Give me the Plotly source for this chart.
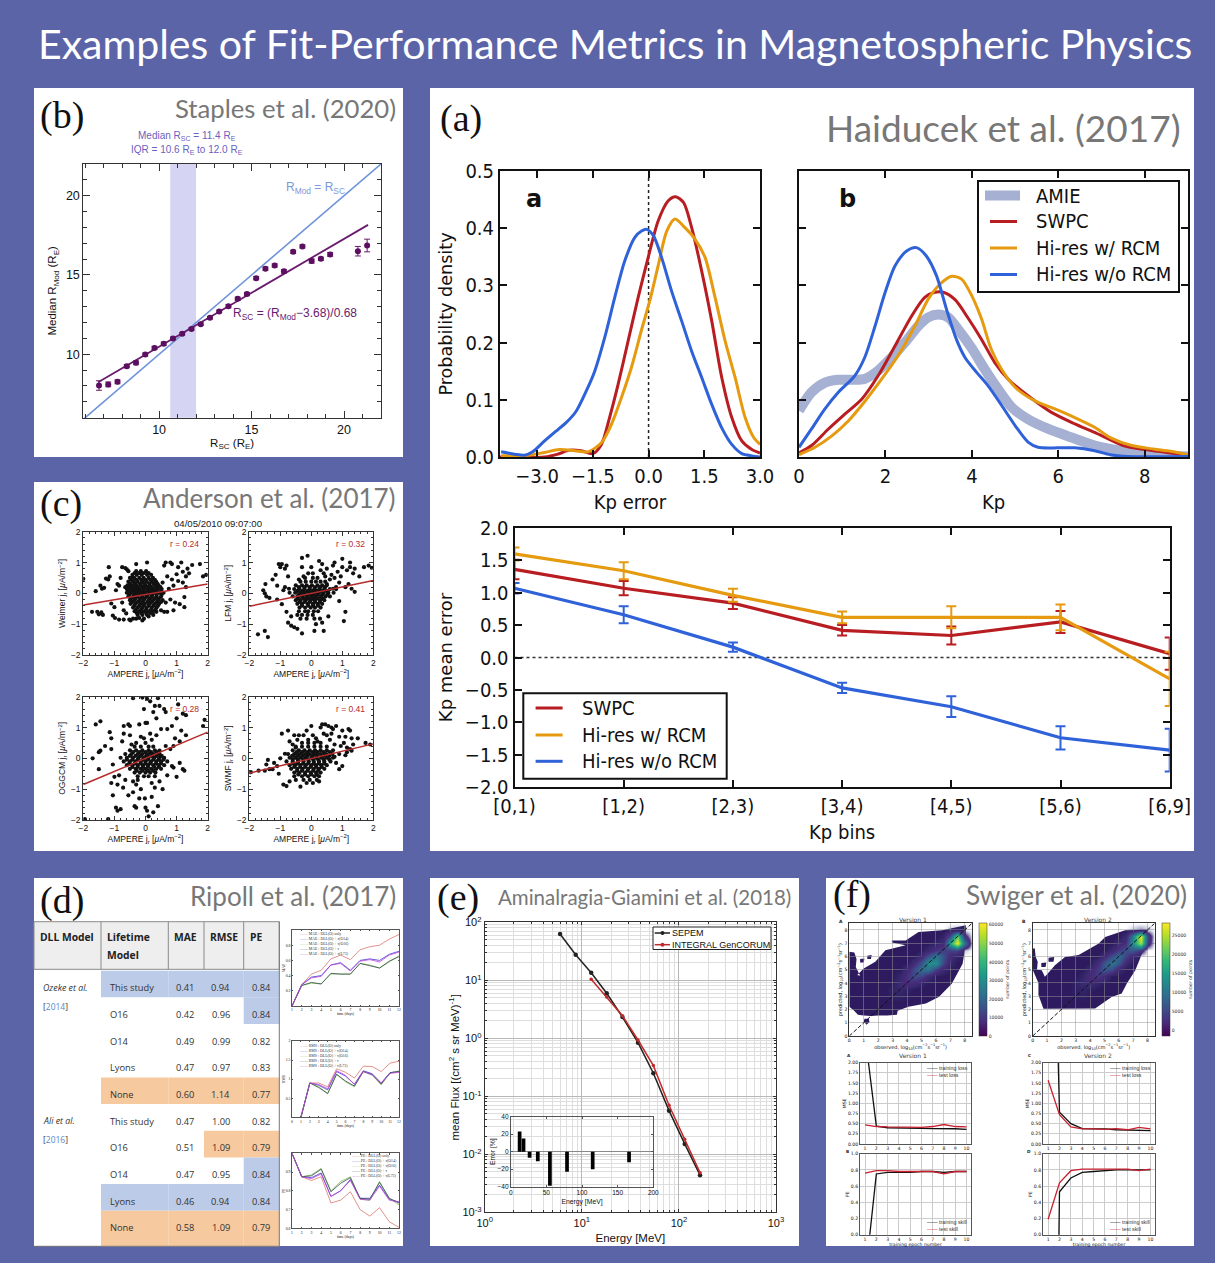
import numpy as np
import plotly.graph_objects as go

W, H = 1215, 1263
BG = "#5c64a8"
SANS = "Liberation Sans"
COND = "DejaVu Sans Condensed"
HUM = "Lato"
SERIF = "Liberation Serif"
RED, ORANGE, BLUE, AMIE = "#b81d22", "#e59a10", "#2f62d9", "#a5b0d2"

# ---------- panel (a) ----------
err_x_blue = [-3.97,-3.61,-3.34,-3.12,-2.8,-2.44,-2.22,-1.95,-1.68,-1.45,-1.18,-.91,-.64,-.37,-.19,-.05,.13,.35,.62,.89,1.16,1.43,1.7,1.97,2.24,2.51,2.78,3]
err_y_blue = [.009,.005,.003,.009,.028,.048,.06,.08,.115,.15,.209,.279,.343,.384,.395,.398,.387,.349,.29,.238,.185,.139,.092,.051,.022,.006,.002,0]
err_x_red = [-4,-2.8,-2.44,-2.13,-1.81,-1.5,-1.27,-1.05,-.82,-.55,-.28,-.01,.26,.53,.73,.94,1.16,1.43,1.7,1.97,2.24,2.51,2.78,3]
err_y_red = [0,0,.005,.012,.011,.006,.022,.069,.127,.203,.279,.349,.413,.448,.455,.445,.401,.325,.238,.139,.069,.028,.013,.007]
err_x_orange = [-3.97,-3.25,-2.8,-2.4,-1.99,-1.63,-1.27,-1,-.73,-.46,-.19,.04,.26,.49,.71,.98,1.25,1.52,1.79,2.06,2.33,2.6,2.83,3]
err_y_orange = [.002,.003,.008,.013,.011,.009,.025,.057,.104,.157,.222,.275,.335,.395,.416,.401,.381,.349,.279,.203,.139,.069,.034,.022]

kp_x_amie = [0,.29,.6,.91,1.23,1.53,1.83,2.14,2.45,2.76,2.99,3.22,3.45,3.68,3.99,4.3,4.61,4.92,5.3,5.77,6.31,6.84,7.5,8,9]
kp_y_amie = [.081,.113,.13,.135,.135,.137,.151,.174,.2,.229,.244,.249,.244,.223,.191,.153,.118,.087,.066,.049,.034,.02,.01,.005,.001]
kp_x_red = [0,.29,.68,1.06,1.45,1.83,2.22,2.61,2.91,3.14,3.34,3.61,3.91,4.22,4.53,4.84,5.3,5.84,6.38,6.84,7.5,8,8.5,9]
kp_y_red = [.007,.02,.049,.075,.101,.142,.194,.247,.279,.288,.288,.275,.243,.206,.165,.136,.107,.078,.058,.043,.02,.013,.008,.003]
kp_x_orange = [0,.37,.76,1.14,1.53,1.91,2.3,2.68,2.99,3.26,3.53,3.76,3.99,4.22,4.45,4.69,5,5.46,5.92,6.38,6.84,7.2,7.7,8.2,8.6,9]
kp_y_orange = [.004,.017,.037,.063,.098,.136,.178,.229,.276,.302,.316,.311,.283,.242,.188,.153,.122,.098,.084,.069,.052,.034,.02,.014,.01,.004]
kp_x_blue = [0,.29,.6,.91,1.29,1.52,1.76,1.99,2.22,2.49,2.72,2.95,3.18,3.41,3.64,3.84,4.11,4.38,4.69,5,5.3,5.53,6,6.38,6.84,7.2,7.6,9]
kp_y_blue = [.017,.049,.084,.113,.142,.174,.229,.287,.334,.36,.366,.351,.317,.259,.206,.174,.148,.124,.09,.055,.026,.017,.016,.016,.011,.004,.001,.001]

kp_bins = ["[0,1)", "[1,2)", "[2,3)", "[3,4)", "[4,5)", "[5,6)", "[6,9]"]
bin_red = [1.36, 1.07, .84, .42, .34, .55, .06]
bin_red_err = [.15, .11, .09, .08, .14, .17, .25]
bin_orange = [1.6, 1.34, .96, .62, .62, .62, -.33]
bin_orange_err = [.1, .13, .1, .09, .17, .2, .42]
bin_blue = [1.07, .66, .16, -.47, -.76, -1.24, -1.43]
bin_blue_err = [.08, .13, .07, .08, .16, .18, .33]

# ---------- panel (b) ----------
rsc_x = [6.75,7.25,7.75,8.25,8.75,9.25,9.75,10.25,10.75,11.25,11.75,12.25,12.75,13.25,13.75,14.25,14.75,15.25,15.75,16.25,16.75,17.25,17.75,18.25,18.75,19.25,20.75,21.25]
rmod_y = [8.03,8.1,8.26,9.25,9.46,9.98,10.4,10.67,11.0,11.3,11.6,11.9,12.3,12.7,13.03,13.5,13.8,14.8,15.4,15.6,15.23,16.46,16.8,15.88,16.02,16.3,16.5,16.86]
rmod_err = [.3,.15,.12,.1,.12,.1,.1,.1,.08,.08,.08,.08,.08,.08,.1,.1,.1,.1,.1,.1,.12,.1,.1,.13,.1,.12,.3,.4]
fit_x = [6.7, 21.3]
fit_y = [8.24, 18.16]
identity_xy = [5.9, 22]

# ---------- panel (c) ----------
weimer_rows = [(.72,[-.3,-.15,.02]),(.66,[-.35,-.2,-.05,.1]),(.6,[-.42,-.28,-.12,.05,.18]),(.5,[-.5,-.36,-.2,-.06,.1,.24]),(.44,[-.45,-.3,-.14,0,.16,.3]),(.38,[-.55,-.4,-.26,-.1,.04,.2,.34]),(.32,[-.5,-.34,-.18,-.04,.12,.26,.38]),
 (.26,[-.58,-.44,-.3,-.15,0,.14,.3,.42]),(.2,[-.52,-.38,-.24,-.08,.06,.2,.36,.48]),(.14,[-.6,-.46,-.32,-.18,-.03,.12,.27,.4,.52]),(.08,[-.54,-.38,-.24,-.1,.06,.2,.34,.5]),(.02,[-.6,-.46,-.3,-.16,-.02,.14,.28,.44,.58]),
 (-.04,[-.52,-.36,-.22,-.08,.08,.22,.36,.52]),(-.1,[-.55,-.4,-.26,-.1,.04,.2,.35,.5]),(-.16,[-.46,-.32,-.16,-.02,.14,.3,.44]),(-.22,[-.5,-.36,-.2,-.06,.1,.24,.4,.55]),(-.28,[-.42,-.26,-.1,.06,.2,.36,.5]),(-.34,[-.48,-.32,-.16,-.02,.14,.3,.44]),
 (-.4,[-.36,-.2,-.06,.1,.26,.4]),(-.46,[-.4,-.25,-.1,.04,.2,.36]),(-.52,[-.3,-.14,.02,.18,.32]),(-.58,[-.35,-.2,-.05,.1,.25]),(-.64,[-.28,-.14,.02,.16]),(-.7,[-.25,-.1,.05]),(-.82,[-.3,-.05])]
weimer_outer = [(-2,.47),(-1.72,-.6),(-1.6,.07),(-1.55,-.6),(-1.5,-.68),(-1.42,-.62),(-1.37,-.7),(-1.45,.25),(-1.4,.15),(-1.33,.18),(-1.27,.48),(-1.15,.55),(-1.2,.45),(-1.18,.85),(-1.1,-.33),(-1.05,-.72),(-1.0,-.45),(-.98,-.8),(-.95,.1),(-.9,.3),(-.85,.25),(-.85,-.85),(-.8,.5),(-.75,.85),(-.75,-.3),(-.7,-.85),(-.7,-.55),(-.65,.82),(-.65,.2),(-.62,-.65),(-.6,.78),(-.55,.72),(-.52,-.85),(-.48,-.88),(-.45,.5),(-.4,-.82),(-.3,.95),(-.2,-.8),(-.1,-.88),(.05,1.0),(.1,-.75),(.25,-.7),(.35,-.6),(.5,-.55),(.6,.9),(.55,.35),(.65,-.3),(.7,-.6),(.65,1.0),(.7,.55),(.75,.15),(.8,1.0),(.85,.95),(.85,.45),(.9,.25),(.95,-.3),(.9,-.55),(1,.62),(1.05,.85),(1.05,.4),(1.1,-.35),(1.15,1.0),(1.2,.7),(1.2,.35),(1.25,-.12),(1.3,.2),(1.3,.55),(1.35,.8),(1.4,.65),(1.5,.92),(1.75,.95),(1.95,.6),(1.85,.55),(1.25,-.45),(.8,-.2),(.6,-.6)]
weimer_fit = [-.38, .3]

lfm_rows = [(.5,[-.2,.05,.2]),(.38,[-.35,-.18,0,.15,.3,.45]),(.26,[-.5,-.3,-.15,.02,.2,.35,.5]),(.2,[-.4,-.22,-.05,.12,.28,.44]),(.14,[-.55,-.38,-.22,-.05,.1,.26,.42,.6,.8]),(.08,[-.45,-.28,-.12,.04,.18,.34,.5]),
 (.02,[-.7,-.52,-.35,-.2,-.05,.1,.25,.4,.55,.72]),(-.04,[-.4,-.25,-.08,.06,.2,.36,.52]),(-.1,[-.6,-.45,-.3,-.15,0,.14,.3,.46,.6]),(-.16,[-.42,-.25,-.1,.05,.2,.36]),(-.22,[-.5,-.35,-.18,-.02,.12,.28,.42]),(-.28,[-.38,-.22,-.05,.12,.28]),
 (-.34,[-.45,-.3,-.12,.05,.2,.35]),(-.4,[-.3,-.1,.06,.22]),(-.46,[-.38,-.2,-.02,.12,.3]),(-.58,[-.4,-.2,-.1,.08,.22]),(-.7,[-.45,-.3,-.12,.05]),(-.82,[-.35,-.15,.1,.28])]
lfm_outer = [(-1.72,-1.33),(-1.5,-1.22),(-1.4,-1.42),(-1.55,.1),(-1.5,.0),(-1.48,.3),(-1.45,-.1),(-1.35,-.15),(-1.25,.45),(-1.15,.6),(-1.1,.25),(-1.1,-.2),(-1.05,.95),(-1.0,.85),(-.95,.95),(-.85,.8),(-.8,.9),(-.95,-.35),(-.9,.1),(-.85,.2),(-.75,.55),(-.72,.15),(-.65,-.75),(-.8,-.6),(-.75,-.95),(-.65,-1.05),(-.55,-1.1),(-.45,-1.15),(-.3,-1.3),(-.4,.45),(-.3,.85),(-.3,1.15),(-.25,.55),(-.12,1.22),(-.1,.65),(0,.85),(.05,.65),(.1,-1.22),(.15,-1.0),(.25,1.05),(.3,.75),(.35,.95),(.35,-.95),(.4,.65),(.4,-1.22),(.45,.55),(.5,.8),(.5,.3),(.55,-.75),(.6,.45),(.65,.6),(.7,.9),(.7,.15),(.75,.5),(.75,1.0),(.8,.2),(.85,.7),(.9,-.25),(.9,.35),(.95,.55),(1.0,1.12),(1.0,.85),(1.1,.2),(1.1,-.6),(1.15,.75),(1.2,.3),(1.25,1.0),(1.25,.85),(1.3,.15),(1.35,.65),(1.05,-.9),(1.4,.8),(1.7,.85),(1.85,.9),(1.95,.83),(1.4,.05),(1.55,.55)]
lfm_fit = [-.42, .42]

oggcm_rows = [(.5,[-.3,0]),(.38,[-.35,-.15,.1,.25]),(.26,[-.5,-.3,-.1,.1,.3]),(.2,[-.4,-.2,0,.18,.36]),(.14,[-.65,-.45,-.25,-.1,.1,.25,.45]),(.08,[-.5,-.32,-.15,.02,.2,.36,.52]),(.02,[-.8,-.6,-.4,-.22,-.05,.1,.28,.45,.6]),(-.04,[-.6,-.42,-.25,-.08,.08,.25,.42,.58]),
 (-.1,[-.7,-.5,-.32,-.15,0,.18,.35,.5,.7]),(-.16,[-.52,-.35,-.16,0,.15,.34,.5]),(-.22,[-.6,-.42,-.25,-.08,.08,.25,.42,.6]),(-.28,[-.42,-.25,-.08,.08,.28,.44]),(-.34,[-.5,-.32,-.15,0,.18,.35,.5]),(-.4,[-.28,-.1,.08,.25]),(-.46,[-.35,-.18,0,.15,.32]),(-.58,[-.25,-.05,.1,.3])]
oggcm_outer = [(-1.7,0),(-1.5,.2),(-1.45,.25),(-1.45,1.2),(-1.6,1.1),(-1.5,-.35),(-1.3,.4),(-1.15,.85),(-1.1,.65),(-1.1,.3),(-1.05,-.2),(-1.1,-.8),(-1.0,-.6),(-1.05,-1.2),(-.95,-1.6),(-.9,-1.7),(-.8,-1.65),(-.9,-.85),(-.85,-.55),(-.75,.55),(-.7,.8),(-.72,-.95),(-.65,-.7),(-.7,1.05),(-.55,1.1),(-.5,1.05),(-.5,.75),(-.45,.45),(-.55,-1.2),(-.4,-.75),(-.4,-1.1),(-.4,1.95),(-.3,-.85),(-.35,-1.55),(-.3,-1.6),(-.25,-.7),(-.2,1.1),(-.15,.7),(-.15,-1.0),(-.2,-1.3),(-.1,1.97),(-.05,1.6),(-.05,.65),(0,1.15),(.05,1.93),(.05,1.15),(0,-1.6),(.05,-1.7),(.1,-1.88),(-.02,-1.3),(.15,1.85),(.15,.8),(.2,-1.25),(.2,-.8),(.25,-1.75),(.2,.6),(.25,1.5),(.3,-.95),(.3,1.7),(.35,1.3),(.35,.75),(.4,-1.55),(.4,1.95),(.45,1.7),(.45,.25),(.45,-.75),(.5,.95),(.55,-1.0),(.6,1.6),(.65,1.5),(.65,.4),(.7,-.55),(.7,.95),(.8,.3),(.85,1.05),(.9,-.3),(.9,.4),(.95,.65),(1.0,1.3),(1.05,1.75),(1.1,-.15),(1.1,.55),(1.15,.9),(1.2,1.45),(1.2,-.35),(1.25,-.4),(1.3,.75),(1.3,1.4),(1.85,1.05),(1.9,1.25),(-1.95,-1.97),(-1.2,-1.97),(1.0,-.6),(.85,-.25)]
oggcm_fit = [-.85, .85]

swmf_rows = [(.5,[-.3,-.1,.1,.3]),(.38,[-.5,-.3,-.1,.1,.3,.5]),(.26,[-.6,-.4,-.22,-.05,.12,.3,.5,.7]),(.2,[-.48,-.3,-.12,.05,.2,.4,.6]),(.14,[-.75,-.55,-.38,-.2,-.05,.12,.3,.48,.68,.9]),(.08,[-.62,-.45,-.28,-.12,.04,.2,.4,.58]),
 (.02,[-.7,-.52,-.35,-.18,0,.15,.32,.5,.7]),(-.04,[-.6,-.44,-.26,-.1,.06,.22,.4,.58]),(-.1,[-.8,-.6,-.42,-.25,-.08,.08,.25,.42,.62]),(-.16,[-.6,-.44,-.26,-.1,.08,.24,.42]),(-.22,[-.7,-.52,-.35,-.18,0,.15,.32,.5]),(-.28,[-.55,-.36,-.2,-.02,.16,.34]),
 (-.34,[-.65,-.45,-.28,-.1,.08,.25,.42]),(-.4,[-.46,-.3,-.12,.06,.22]),(-.46,[-.55,-.38,-.2,-.02,.15,.3]),(-.52,[-.42,-.2,0,.18]),(-.58,[-.55,-.3,-.1,.1,.25]),(-.7,[-.5,-.25,-.05,.18])]
swmf_outer = [(-1.95,-.45),(-1.7,-.4),(-1.5,-.4),(-1.45,-.2),(-1.4,-.05),(-1.35,-.35),(-1.25,-.35),(-1.2,-.15),(-1.1,-.25),(-1.05,-.5),(-1.0,.0),(-.95,.8),(-.9,-.85),(-.8,-.9),(-.75,.9),(-.85,.15),(-.7,.55),(-.7,-.75),(-.6,.45),(-.55,.75),(-.5,.35),(-.45,.6),(-.4,.75),(-.35,-.92),(-.25,.75),(-.15,.9),(-.1,.6),(-.15,-.8),(0,1.05),(.05,.75),(.05,-.8),(.15,.65),(.2,.55),(.25,-.75),(.3,1.0),(.35,1.1),(.4,.8),(.45,1.1),(.5,.75),(.55,1.05),(.6,.6),(.65,.8),(.65,1.0),(.7,.95),(.75,.45),(.75,.05),(.8,-.15),(.8,1.05),(.9,.7),(.95,.4),(1.0,.9),(1.0,-.25),(1.05,.5),(1.1,.7),(1.1,.1),(1.15,.35),(1.2,.95),(1.25,.9),(1.25,.3),(1.3,.25),(1.3,.65),(1.5,.65),(1.35,.45),(1.75,.5),(1.9,.45),(.9,-.35),(1.15,.2)]
swmf_fit = [-.48, .47]

# ---------- panel (d) ----------
lifetime_model = ["This study", "O16", "O14", "Lyons", "None", "This study", "O16", "O14", "Lyons", "None"]
mae_vals = ["0.41", "0.42", "0.49", "0.47", "0.60", "0.47", "0.51", "0.47", "0.46", "0.58"]
rmse_vals = ["0.94", "0.96", "0.99", "0.97", "1.14", "1.00", "1.09", "0.95", "0.94", "1.09"]
pe_vals = ["0.84", "0.84", "0.82", "0.83", "0.77", "0.82", "0.79", "0.84", "0.84", "0.79"]
CB, CO, CW = "#bccbe8", "#f6c99f", "#ffffff"
fill_model = [CB, CW, CW, CW, CO, CW, CW, CW, CB, CO]
fill_mae = [CB, CW, CW, CW, CO, CW, CW, CW, CB, CO]
fill_rmse = [CB, CW, CW, CW, CO, CW, CO, CW, CB, CO]
fill_pe = [CB, CB, CW, CW, CO, CW, CO, CB, CB, CO]

days = [1,2,3,4,5,6,7,8,9,10,11,12]
d_names = ["DLL(O) only", "DLL(O) + τ(O14)", "DLL(O) + τ(O16)", "DLL(O) + τ", "DLL(O) + τ(L73)"]
d_colors = ["#d9776f", "#3a3ad0", "#8fc060", "#2f4a4a", "#c040e0"]
mae_series = [[0,.28,.42,.47,.62,.67,.61,.74,.78,.80,.88,.94],[0,.28,.38,.40,.54,.57,.47,.60,.62,.60,.68,.72],
              [0,.27,.30,.29,.42,.42,.42,.56,.54,.50,.58,.66],[0,.27,.31,.29,.43,.42,.42,.56,.53,.50,.59,.65],
              [0,.28,.37,.39,.54,.56,.46,.59,.61,.58,.67,.71]]
rms_series = [[0,.9,.9,.8,1.27,1.18,1.03,1.34,1.33,1.2,1.42,1.47],[0,.9,.84,.72,1.2,1.08,.87,1.22,1.14,.9,1.17,1.2],
              [0,.9,.8,.63,1.12,.93,.8,1.2,1.1,.85,1.16,1.22],[0,.9,.78,.62,1.13,.95,.82,1.2,1.12,.87,1.17,1.2],
              [0,.9,.86,.75,1.22,1.1,.86,1.2,1.12,.9,1.15,1.18]]
pe_series = [[1,.875,.855,.875,.735,.75,.795,.70,.665,.71,.635,.605],[1,.875,.87,.895,.77,.80,.86,.76,.76,.83,.755,.74],
             [1,.875,.885,.92,.80,.85,.875,.755,.75,.85,.76,.725],[1,.875,.88,.915,.795,.84,.87,.76,.755,.845,.76,.735],
             [1,.875,.865,.89,.77,.80,.855,.755,.75,.825,.75,.74]]

# ---------- panel (e) ----------
sepem_x = [5.97, 8.65, 12.5, 18.05, 26.2, 37.9, 54.6, 79.1, 114.8, 165]
sepem_y = [63, 27.6, 13.5, 5.97, 2.33, .84, .25, .0566, .0151, .00437]
integral_x = [12.5, 18.05, 26.2, 37.9, 54.6, 79.1, 114.8, 165]
integral_y = [10.4, 5.16, 2.45, .935, .338, .07, .0182, .00483]
inset_x = [12.5, 18, 26.5, 38, 55, 79, 115, 166]
inset_y = [23, 15, -7, -11, -39, -23, -20, -12]

# ---------- panel (f) ----------
heat_axis = [0,.5,1,1.5,2,2.5,3,3.5,4,4.5,5,5.5,6,6.5,7,7.5,8,8.5]
Z0 = [0]*18
heat_a = [Z0,Z0,Z0,Z0,Z0,Z0,
 [0,0,0,0,0,0,1.5,1.5,0,0,0,0,0,0,0,0,0,0],
 [0,0,0,0,0,0,2,3,2,0,0,0,0,0,0,0,0,0],
 [0,0,0,0,0,0,0,5,8,7,2,0,0,0,0,0,0,0],
 [0,0,0,0,0,0,0,3,9,14,13,5,0,0,0,0,0,0],
 [0,0,0,0,0,0,0,0,6,14,22,24,12,4,0,0,0,0],
 [0,0,0,0,0,0,0,0,0,7,16,30,30,13,3,0,0,0],
 [0,0,0,0,0,0,0,0,0,0,6,16,24,16,6,2,0,0],
 [0,0,0,0,0,0,0,0,0,0,0,4,10,11,12,13,2,0],
 [0,0,0,0,0,0,0,0,0,0,0,0,2,6,36,61,24,0],
 [0,0,0,0,0,0,0,0,0,0,0,0,0,2,15,48,10,0],
 [0,0,0,0,0,0,0,0,0,0,0,0,0,0,2,3,1,0],Z0]
heat_b = [Z0,Z0,Z0,Z0,Z0,Z0,
 [0,0,0,0,0,0,.5,.5,0,0,0,0,0,0,0,0,0,0],
 [0,0,0,0,0,0,.5,1,.5,0,0,0,0,0,0,0,0,0],
 [0,0,0,0,0,0,.7,2,2.5,1,0,0,0,0,0,0,0,0],
 [0,0,0,0,0,0,0,1,3.5,5,3,0,0,0,0,0,0,0],
 [0,0,0,0,0,0,0,0,2,5,8,7,2,0,0,0,0,0],
 [0,0,0,0,0,0,0,0,0,3,8,11,8,2,0,0,0,0],
 [0,0,0,0,0,0,0,0,0,0,3,7,10,6,2,0,0,0],
 [0,0,0,0,0,0,0,0,0,0,0,2,5,7,8,5,0,0],
 [0,0,0,0,0,0,0,0,0,0,0,0,2,4,14,25,5,0],
 [0,0,0,0,0,0,0,0,0,0,0,0,0,2,12,28,6,0],
 [0,0,0,0,0,0,0,0,0,0,0,0,0,0,1,2,1,0],Z0]
env_a_x = [0,.3,.6,1,1.5,2,2.6,3.3,3.35,4.1,5.3,6.2,7.1,7.85,8.07,8.07,6.44,4.8,3.9,2.95,2.95,3.9,2.5,1.8,1,.55,.75,.45,.5,.35,0,None,1.05,1.35,1.4,1.2,1.0,None,.75,1.05,1.0,.75,None,1.25,1.55,1.5,1.25]
env_a_y = [2.2,1.95,1.6,1.55,1.5,1.55,1.55,1.6,1.9,2.2,2.45,2.95,3.95,5.45,6.97,8.35,7.97,7.85,7.2,7.2,7.05,6.85,6.47,5.6,5.1,4.6,4.55,5.2,5.8,6.3,6.35,None,1.3,1.3,1.05,.85,1.1,None,5.8,5.85,5.55,5.55,None,6.05,6.1,5.8,5.8]
env_b_x = [0,.4,.4,.75,4.35,5.5,6.2,6.55,7.15,7.85,8.02,6.44,5.05,4.6,3.2,2.25,1.55,.85,.63,.3,.35,.2,.15,0,None,1.1,1.5,1.45,1.1,None,.6,.95,.9,.6]
env_b_y = [5,4,3.1,2.05,2.08,2.95,3.2,3.95,4.96,6.84,8.02,7.97,7.47,6.97,6.1,5.96,5.34,4.46,4.96,5,5.6,6,6.6,6.6,None,5.9,5.95,5.6,5.6,None,5.5,5.55,5.2,5.2]
cbar_a_ticks = [0,10000,20000,30000,40000,50000,60000]
cbar_b_ticks = [0,5000,10000,15000,20000,25000]
epochs = [1,2,3,4,5,6,7,8,9,10]
loss1_train = [2.67,.44,.40,.39,.39,.385,.38,.38,.375,.36]
loss1_test = [.47,.43,.42,.42,.42,.41,.43,.48,.43,.42]
loss2_train = [12,.78,.5,.38,.37,.37,.35,.345,.345,.33]
loss2_test = [1.57,.72,.42,.37,.37,.36,.38,.35,.41,.37]
skill1_train = [-.54,.75,.77,.77,.77,.78,.78,.77,.78,.78]
skill1_test = [.76,.79,.79,.78,.78,.78,.78,.75,.78,.78]
skill2_train = [-10,.53,.7,.77,.78,.79,.8,.8,.8,.8]
skill2_test = [.19,.64,.79,.81,.81,.81,.81,.81,.79,.81]

# ---------- helpers ----------
def px(x): return x / W
def py(y): return 1 - y / H

layout = dict(width=W, height=H, margin=dict(l=0, r=0, t=0, b=0), paper_bgcolor=BG,
              plot_bgcolor="rgba(0,0,0,0)", showlegend=False, shapes=[], annotations=[])
traces = []
naxes = [0]

def rect(x0, y0, x1, y1, color, layer="below", border=None, bw=0):
    layout["shapes"].append(dict(type="rect", xref="paper", yref="paper", x0=px(x0), x1=px(x1), y0=py(y0), y1=py(y1),
                                 fillcolor=color, line=dict(width=bw, color=border or color), layer=layer))

def hline(x0, y0, x1, y1, color, width, layer="above"):
    layout["shapes"].append(dict(type="line", xref="paper", yref="paper", x0=px(x0), x1=px(x1), y0=py(y0), y1=py(y1),
                                 line=dict(width=width, color=color), layer=layer))

def label(x, y, text, size, color="#111", font=SANS, xa="center", ya="middle", angle=0, align=None):
    layout["annotations"].append(dict(xref="paper", yref="paper", x=px(x), y=py(y), text=text, showarrow=False,
                                      font=dict(size=size, color=color, family=font), xanchor=xa, yanchor=ya,
                                      textangle=angle, align=align or "center", borderpad=0, borderwidth=0))

def axes(box, xr, yr, size=10, color="#222", lw=1, font=SANS, ticklen=4, xkw=None, ykw=None,
         xtitle=None, ytitle=None, tsize=None, xstand=2, ystand=2, tfont=None, ytsize=None):
    naxes[0] += 1
    n = naxes[0]
    s = "" if n == 1 else str(n)
    x0, y0, x1, y1 = box
    base = dict(showline=True, linecolor=color, linewidth=lw, mirror="all", ticks="inside", ticklen=ticklen,
                tickcolor=color, tickwidth=lw, tickfont=dict(size=size, family=font, color="#111"),
                showgrid=False, zeroline=False, automargin=False)
    xa = dict(base, domain=[px(x0), px(x1)], range=xr, anchor="y" + s)
    ya = dict(base, domain=[py(y1), py(y0)], range=yr, anchor="x" + s)
    if xtitle:
        xa["title"] = dict(text=xtitle, standoff=xstand, font=dict(size=tsize or size, family=font, color="#111"))
    if ytitle:
        ya["title"] = dict(text=ytitle, standoff=ystand, font=dict(size=ytsize or tsize or size, family=tfont or font, color="#111"))
    xa.update(xkw or {})
    ya.update(ykw or {})
    layout["xaxis" + s] = xa
    layout["yaxis" + s] = ya
    return "x" + s, "y" + s

def line(ax, x, y, color, width=2, name=None, shape="linear", dash=None, **kw):
    traces.append(go.Scatter(x=x, y=y, mode=kw.pop("mode", "lines"),
                             line=dict(color=color, width=width, shape=shape, dash=dash, smoothing=.8 if shape == "spline" else None),
                             name=name, xaxis=ax[0], yaxis=ax[1], showlegend=False, hoverinfo="skip", **kw))

def minilegend(x, y, names, colors, size):
    txt = "<br>".join(f'<span style="color:{c}">——</span> {n}' for n, c in zip(names, colors))
    label(x, y, txt, size, "#333", SERIF if size < 5 else SANS, xa="left", align="left")

def boxlegend(box, entries, textx, size, font, bw=2, color="#111"):
    rect(*box, "#ffffff", layer="above", border=color, bw=bw)
    for x0, x1, y, col, w, name in entries:
        hline(x0, y, x1, y, col, w)
        label(textx, y, name, size, "#111", font, xa="left")

# ---------- background panels ----------
for box in [(34, 88, 403, 457), (34, 482, 403, 851), (430, 88, 1194, 851),
            (34, 878, 403, 1246), (430, 878, 799, 1246), (826, 878, 1194, 1246)]:
    rect(*box, "#ffffff")

label(615, 44, "Examples of Fit-Performance Metrics in Magnetospheric Physics", 41, "#ffffff", HUM)
for x, y, t in [(40, 115, "(b)"), (40, 503, "(c)"), (440, 118, "(a)"), (40, 900, "(d)"), (437, 897, "(e)"), (833, 895, "(f)")]:
    label(x, y, t, 38, "#111", SERIF, xa="left")
for x, y, t, s in [(396, 108, "Staples et al. (2020)", 25.7), (396, 498, "Anderson et al. (2017)", 26),
                   (1181, 127, "Haiducek et al. (2017)", 37), (396, 896, "Ripoll et al. (2017)", 26),
                   (791, 897, "Aminalragia-Giamini et al. (2018)", 20.5), (1187, 895, "Swiger et al. (2020)", 26.3)]:
    label(x, y, t, s, "#777777", HUM, xa="right")

# ---------- panel (a) top ----------
a1 = axes((500, 171, 760, 457), [-4, 3], [0, .5], size=20, color="#111", lw=2, font=COND, ticklen=7,
          xkw=dict(tickvals=[-3, -1.5, 0, 1.5, 3], ticktext=["−3.0", "−1.5", "0.0", "1.5", "3.0"]),
          ykw=dict(tickvals=[0, .1, .2, .3, .4, .5], ticktext=["0.0", "0.1", "0.2", "0.3", "0.4", "0.5"]),
          xtitle="Kp error", xstand=8, ytitle="Probability density", ystand=8, tsize=20, ytsize=17.6, tfont="DejaVu Sans")
line(a1, [0, 0], [0, .49], "#222", 1.5, dash="dot")
line(a1, err_x_red, err_y_red, RED, 3, shape="spline", name="SWPC")
line(a1, err_x_orange, err_y_orange, ORANGE, 3, shape="spline", name="Hi-res w/ RCM")
line(a1, err_x_blue, err_y_blue, BLUE, 3, shape="spline", name="Hi-res w/o RCM")
label(534, 199, "<b>a</b>", 24, "#111", "DejaVu Sans")

a2 = axes((799, 171, 1188, 457), [0, 9], [0, .5], size=20, color="#111", lw=2, font=COND, ticklen=7,
          xkw=dict(tickvals=[0, 2, 4, 6, 8]), ykw=dict(tickvals=[0, .1, .2, .3, .4, .5], showticklabels=False),
          xtitle="Kp", xstand=8, tsize=20)
line(a2, kp_x_amie, kp_y_amie, AMIE, 10, shape="spline", name="AMIE")
line(a2, kp_x_red, kp_y_red, RED, 3, shape="spline", name="SWPC")
line(a2, kp_x_orange, kp_y_orange, ORANGE, 3, shape="spline", name="Hi-res w/ RCM")
line(a2, kp_x_blue, kp_y_blue, BLUE, 3, shape="spline", name="Hi-res w/o RCM")
label(847, 199, "<b>b</b>", 24, "#111", "DejaVu Sans")
boxlegend((978, 181, 1179, 292), [(985, 1020, 195.5, AMIE, 10, "AMIE"), (990, 1017, 221.5, RED, 3, "SWPC"),
                                  (990, 1017, 248, ORANGE, 3, "Hi-res w/ RCM"), (990, 1017, 274.5, BLUE, 3, "Hi-res w/o RCM")],
          1036, 20, COND)

# ---------- panel (a) bottom ----------
a3 = axes((514.5, 528, 1169.7, 787), [0, 6], [-2, 2], size=20, color="#111", lw=2, font=COND, ticklen=7,
          xkw=dict(type="category", categoryorder="array", categoryarray=kp_bins),
          ykw=dict(tickvals=[-2, -1.5, -1, -.5, 0, .5, 1, 1.5, 2],
                   ticktext=["−2.0", "−1.5", "−1.0", "−0.5", "0.0", "0.5", "1.0", "1.5", "2.0"]),
          xtitle="Kp bins", xstand=8, ytitle="Kp mean error", ystand=8, tsize=20, ytsize=18, tfont="DejaVu Sans")
line(a3, kp_bins, [0]*7, "#333", 1.5, dash="dot")
for vals, errs, col, nm in [(bin_red, bin_red_err, RED, "SWPC"), (bin_orange, bin_orange_err, ORANGE, "Hi-res w/ RCM"),
                            (bin_blue, bin_blue_err, BLUE, "Hi-res w/o RCM")]:
    line(a3, kp_bins, vals, col, 3.2, name=nm, error_y=dict(type="data", array=errs, color=col, thickness=2, width=5))
boxlegend((523.3, 693.3, 726.7, 778.7), [(535.6, 562.6, 708, RED, 3, "SWPC"), (535.6, 562.6, 735, ORANGE, 3, "Hi-res w/ RCM"),
                                         (535.6, 562.6, 761.3, BLUE, 3, "Hi-res w/o RCM")], 582, 20, COND)

# ---------- panel (b) ----------
PUR = "#6a1b6e"
mb = dict(ticks="inside", dtick=1, ticklen=4, tickcolor="#333")
b1 = axes((83.3, 164, 381, 417.7), [5.9, 22], [6, 22], size=12.5, color="#333", lw=1, ticklen=7,
          xkw=dict(dtick=5, tick0=0, minor=mb), ykw=dict(dtick=5, tick0=0, minor=mb),
          xtitle="R<sub>SC</sub> (R<sub>E</sub>)", ytitle="Median R<sub>Mod</sub> (R<sub>E</sub>)", tsize=11.5, xstand=1, ystand=6)
layout["shapes"].append(dict(type="rect", xref=b1[0], yref=b1[1] + " domain", x0=10.6, x1=12.0, y0=0, y1=1,
                             fillcolor="#d5d5f3", line_width=0, layer="below"))
line(b1, identity_xy, identity_xy, "#6f93d8", 1.6)
line(b1, fit_x, fit_y, PUR, 1.8)
traces.append(go.Scatter(x=rsc_x, y=rmod_y, mode="markers", xaxis=b1[0], yaxis=b1[1], showlegend=False, hoverinfo="skip",
                         marker=dict(color="#5b0f5f", size=6),
                         error_y=dict(type="data", array=rmod_err, color=PUR, thickness=1, width=3)))
label(187, 136, "Median R<sub>SC</sub> = 11.4 R<sub>E</sub>", 10, "#6a5fc0")
label(187, 150, "IQR = 10.6 R<sub>E</sub> to 12.0 R<sub>E</sub>", 10, "#6a5fc0")
label(315, 188, "R<sub>Mod</sub> = R<sub>SC</sub>", 12, "#7b98dc")
label(295, 314, "R<sub>SC</sub> = (R<sub>Mod</sub>−3.68)/0.68", 12, PUR)

# ---------- panel (c) ----------
def scatter_panel(box, rows, outer, fit, ytitle):
    minor = dict(ticks="inside", dtick=.2, ticklen=2, tickcolor="#333")
    ax = axes(box, [-2, 2], [-2, 2], size=8.5, color="#333", ticklen=4,
              xkw=dict(dtick=1, minor=minor), ykw=dict(dtick=1, minor=minor),
              xtitle="AMPERE j<sub>r</sub> [<i>μ</i>A/m<sup>−2</sup>]", ytitle=ytitle, tsize=8.5, xstand=2, ystand=3)
    xs = [p[0] for p in outer] + [x for _, row in rows for x in row]
    ys = [p[1] for p in outer] + [y for y, row in rows for _ in row]
    traces.append(go.Scatter(x=xs, y=ys, mode="markers", xaxis=ax[0], yaxis=ax[1], showlegend=False, hoverinfo="skip",
                             marker=dict(color="#111", size=4.2)))
    line(ax, [-2, 2], fit, "#b52a2a", 1.5)

scatter_panel((83.3, 531.7, 207.7, 655), weimer_rows, weimer_outer, weimer_fit, "Weimer j<sub>r</sub> [<i>μ</i>A/m<sup>−2</sup>]")
scatter_panel((249.3, 531.7, 373.3, 655), lfm_rows, lfm_outer, lfm_fit, "LFM j<sub>r</sub> [<i>μ</i>A/m<sup>−2</sup>]")
scatter_panel((83.3, 696.7, 207.7, 820), oggcm_rows, oggcm_outer, oggcm_fit, "OGGCM j<sub>r</sub> [<i>μ</i>A/m<sup>−2</sup>]")
scatter_panel((249.3, 696.7, 373.3, 820), swmf_rows, swmf_outer, swmf_fit, "SWMF j<sub>r</sub> [<i>μ</i>A/m<sup>−2</sup>]")
label(218, 523.5, "04/05/2010 09:07:00", 9.6, "#222")
for x, y, t in [(184, 544, "r = 0.24"), (350, 544, "r = 0.32"), (184, 709, "r = 0.28"), (350, 709, "r = 0.41")]:
    label(x, y, t, 8.5, "#b52a2a")

# ---------- panel (d) table ----------
OS = "Open Sans"
col_edges = [34, 101, 168.3, 204, 243.7, 279.3]
row_top, row_h, head_top = 970.7, 26.67, 921.7
rect(col_edges[0], head_top, col_edges[5], 969.3, "#eeeeee", border="#8a8a8a", bw=1)
for c in col_edges[1:5]:
    hline(c, head_top, c, 969.3, "#8a8a8a", 1, layer="below")
for j, fills in enumerate([fill_model, fill_mae, fill_rmse, fill_pe], start=1):
    for i, col in enumerate(fills):
        if col != CW:
            bottom = 1246.5 if i == 9 else row_top + (i + 1) * row_h
            rect(col_edges[j], row_top + i * row_h, col_edges[j + 1], bottom, col)
hline(279.3, 921.7, 279.3, 1246.5, "#777777", 1, layer="below")
hline(34, 1246.3, 279.3, 1246.3, "#777777", 1, layer="below")
for x, y, t, a in [(40, 937, "DLL Model", "left"), (107, 937, "Lifetime", "left"), (107, 955, "Model", "left"),
                   (185, 937, "MAE", "center"), (223.5, 937, "RMSE", "center"), (255.5, 937, "PE", "center")]:
    label(x, y, f"<b>{t}</b>", 10.3, "#222", OS, xa=a)
for i in range(10):
    y = 987.7 + i * row_h
    label(110, y, lifetime_model[i], 9.3, "#333", OS, xa="left")
    label(185.3, y, mae_vals[i], 9.3, "#333", OS)
    label(221, y, rmse_vals[i], 9.3, "#333", OS)
    label(261, y, pe_vals[i], 9.3, "#333", OS)
label(43, 987.7, "<i>Ozeke et al.</i>", 8.8, "#333", OS, xa="left")
label(43, 1121, "<i>Ali et al.</i>", 8.8, "#333", OS, xa="left")
label(43, 1006, '[<span style="color:#5a86c8">2014</span>]', 8.5, "#333", OS, xa="left")
label(43, 1139, '[<span style="color:#5a86c8">2016</span>]', 8.5, "#333", OS, xa="left")

def mini_d(box, xr, yr, ticks, series, prefix, ylab):
    ax = axes(box, xr, yr, size=3.8, color="#555", lw=.6, font=SERIF, ticklen=1.5,
              xkw=dict(dtick=1), ykw=dict(tickvals=ticks, ticktext=[str(t) for t in ticks]),
              xtitle="time (days)", ytitle=ylab, tsize=3.8, xstand=0, ystand=0)
    for vals, nm, col in zip(series, d_names, d_colors):
        line(ax, days, vals, col, .8, name=f"{prefix} : {nm}")
    return ax

mini_d((292, 930, 399, 1006), [1, 12], [0, 1], [.2, .4, .6, .8], mae_series, "MAE", "MAE")
minilegend(299, 944, [f"MAE : {n}" for n in d_names], d_colors, 3.9)
mini_d((292, 1041, 399, 1117.3), [0, 12], [0, 2], [.5, 1, 1.5, 2], rms_series, "RMS", "RMS")
minilegend(299, 1056, [f"RMS : {n}" for n in d_names], d_colors, 3.9)
mini_d((292, 1153.3, 399, 1228.3), [1, 12], [.6, 1], [.6, .7, .8, .9], pe_series, "PE", "PE")
minilegend(351, 1166, [f"PE : {n}" for n in d_names], d_colors, 3.9)

# ---------- panel (e) ----------
GM, Gm = "#b8b8b8", "#dedede"
e1 = axes((484.7, 922.3, 776, 1212.3), [0, 3], [-3, 2], size=11, color="#333", lw=1, ticklen=3,
          xkw=dict(type="log", tickvals=[1, 10, 100, 1000],
                   ticktext=["10<sup>0</sup>", "10<sup>1</sup>", "10<sup>2</sup>", "10<sup>3</sup>"],
                   showgrid=True, gridcolor=GM, gridwidth=1,
                   minor=dict(showgrid=True, gridcolor=Gm, dtick="D1", ticks="inside", ticklen=2, tickcolor="#333")),
          ykw=dict(type="log", tickvals=[.001, .01, .1, 1, 10, 100],
                   ticktext=["10<sup>-3</sup>", "10<sup>-2</sup>", "10<sup>-1</sup>", "10<sup>0</sup>", "10<sup>1</sup>", "10<sup>2</sup>"],
                   showgrid=True, gridcolor=GM, gridwidth=1,
                   minor=dict(showgrid=True, gridcolor=Gm, dtick="D1", ticks="inside", ticklen=2, tickcolor="#333")),
          xtitle="Energy [MeV]", ytitle="mean Flux [(cm<sup>2</sup> s sr MeV)<sup>-1</sup>]", tsize=11.5, xstand=6, ystand=0)
traces.append(go.Scatter(x=sepem_x, y=sepem_y, mode="lines+markers", name="SEPEM", xaxis=e1[0], yaxis=e1[1],
                         showlegend=False, hoverinfo="skip", line=dict(color="#222", width=1.5), marker=dict(color="#222", size=4.5)))
traces.append(go.Scatter(x=integral_x, y=integral_y, mode="lines+markers", name="INTEGRAL GenCORUM", xaxis=e1[0], yaxis=e1[1],
                         showlegend=False, hoverinfo="skip", line=dict(color="#c22a2a", width=1.5), marker=dict(color="#c22a2a", size=3.5)))
boxlegend((653, 927, 771, 949.5), [(654.7, 670, 933, "#222", 1.5, "SEPEM"), (654.7, 670, 944.7, "#c22a2a", 1.5, "INTEGRAL GenCORUM")],
          672.3, 9, SANS, bw=1, color="#222")
for cy, cc in [(933, "#222"), (944.7, "#c22a2a")]:
    layout["shapes"].append(dict(type="circle", xref="paper", yref="paper", x0=px(660.5), x1=px(664.5), y0=py(cy + 2), y1=py(cy - 2),
                                 fillcolor=cc, line_width=0, layer="above"))
e2 = axes((510.7, 1116.7, 653.3, 1186.7), [0, 200], [-40, 40], size=6.5, color="#555", lw=.8, ticklen=2,
          xkw=dict(tickvals=[0, 50, 100, 150, 200]), ykw=dict(tickvals=[-40, -20, 0, 20, 40],
          zeroline=True, zerolinecolor="#888", zerolinewidth=.8),
          xtitle="Energy [MeV]", ytitle="Error [%]", tsize=6.8, xstand=3, ystand=1)
layout["shapes"].append(dict(type="rect", xref=e2[0] + " domain", yref=e2[1] + " domain", x0=-.16, x1=1.02, y0=-.4, y1=1.0,
                             fillcolor="#ffffff", line_width=0, layer="below"))
traces.append(go.Bar(x=inset_x, y=inset_y, width=5.2, marker=dict(color="#000", line_width=0), xaxis=e2[0], yaxis=e2[1],
                     showlegend=False, hoverinfo="skip"))

# ---------- panel (f) ----------
VIR = ["#440154", "#482878", "#3e4989", "#31688e", "#26828e", "#1f9e89", "#35b779", "#6ece58", "#b5de2b", "#fde725"]
alpha_scale = [[0, "rgba(62,73,137,0)"]] + [[i / 9, c] for i, c in enumerate(VIR) if i > 0]
BASE = "rgb(46,26,94)"
FS = 4.6
FF = "DejaVu Sans"
obs = "observed, log<sub>10</sub>(cm<sup>−2</sup>s<sup>−1</sup>sr<sup>−1</sup>)"
pred = "predicted, log<sub>10</sub>(cm<sup>−2</sup>s<sup>−1</sup>sr<sup>−1</sup>)"

def env_path(xs, ys):
    parts, first = [], True
    for x, y in zip(xs, ys):
        if x is None:
            parts.append("Z")
            first = True
        else:
            parts.append(f"{'M' if first else 'L'}{x},{y}")
            first = False
    parts.append("Z")
    return " ".join(parts)

def heat(box, env_x, env_y, z, zmax, cbar_x, cmin, cmax, cticks):
    g = dict(showgrid=True, gridcolor="rgba(150,150,150,.5)", gridwidth=.8, dtick=1)
    ax = axes(box, [0, 8.5], [0, 8.5], size=FS, color="#333", lw=.8, font=FF, ticklen=0,
              xkw=g, ykw=g, xtitle=obs, ytitle=pred, tsize=FS + .4, xstand=1, ystand=1)
    layout["shapes"].append(dict(type="path", path=env_path(env_x, env_y), xref=ax[0], yref=ax[1],
                                 fillcolor=BASE, line_width=0, layer="below"))
    traces.append(go.Heatmap(x=heat_axis, y=heat_axis, z=(np.array(z, dtype=float) * 1000).tolist(), zmin=0, zmax=zmax, zsmooth="best",
                             colorscale=alpha_scale, showscale=False, xaxis=ax[0], yaxis=ax[1], hoverinfo="skip"))
    line(ax, [0, 8.5], [0, 8.5], "#111", 1, dash="4px,2px")
    x0, y0, x1, y1 = box
    traces.append(go.Scatter(x=[0], y=[0], mode="markers", xaxis=ax[0], yaxis=ax[1], showlegend=False, hoverinfo="skip",
        marker=dict(size=.1, opacity=0, color=[0], colorscale="Viridis", cmin=cmin, cmax=cmax, showscale=True,
                    colorbar=dict(x=px(cbar_x), xanchor="left", thickness=7.5, thicknessmode="pixels", lenmode="pixels",
                                  len=y1 - y0, y=py(y1), yanchor="bottom", outlinewidth=.5, outlinecolor="#333", xpad=0, ypad=0,
                                  tickvals=cticks, ticktext=[str(t) for t in cticks], ticks="",
                                  tickfont=dict(size=FS, family=FF, color="#333"),
                                  title=dict(text="number of points", side="right", font=dict(size=FS, family=FF, color="#333"))))))

heat((849.3, 923.3, 972, 1036), env_a_x, env_a_y, heat_a, 61000, 978.7, 0, 61000, cbar_a_ticks)
heat((1032.7, 923.3, 1154.7, 1036), env_b_x, env_b_y, heat_b, 28300, 1162, -1500, 28300, cbar_b_ticks)
label(913, 919, "Version 1", 6, "#444", FF)
label(1098, 919, "Version 2", 6, "#444", FF)
label(841, 921, "<b>A</b>", 4.5, "#222", FF)
label(1024, 921, "<b>B</b>", 4.5, "#222", FF)
label(913, 1055, "Version 1", 6, "#444", FF)
label(1098, 1055, "Version 2", 6, "#444", FF)
label(849, 1055, "<b>A</b>", 4.2, "#222", FF)
label(1029, 1055, "<b>C</b>", 4.2, "#222", FF)
label(847, 1151, "<b>B</b>", 4.2, "#222", FF)
label(1029, 1151, "<b>D</b>", 4.2, "#222", FF)

def curve(box, yr, yticks, ytext, train, test, ylab, xtitle, names):
    g = dict(showgrid=True, gridcolor="#cccccc", gridwidth=.8)
    ax = axes(box, [.55, 10.4], yr, size=FS, color="#555", lw=.8, font=FF, ticklen=0,
              xkw=dict(g, tickvals=epochs), ykw=dict(g, tickvals=yticks, ticktext=ytext),
              xtitle=xtitle, ytitle=ylab, tsize=FS, xstand=1, ystand=1)
    line(ax, epochs, train, "#111", 1.3, name=names[0])
    line(ax, epochs, test, "#c8202f", 1.3, name=names[1])

lt = [0, .25, .5, .75, 1, 1.25, 1.5, 1.75, 2]
ltt = ["0.00", "0.25", "0.50", "0.75", "1.00", "1.25", "1.50", "1.75", "2.00"]
st = [0, .2, .4, .6, .8, 1]
stt = ["0.0", "0.2", "0.4", "0.6", "0.8", "1.0"]
curve((860, 1062.7, 971, 1144), [0, 2], lt, ltt, loss1_train, loss1_test, "MSE", None, ["training loss", "test loss"])
curve((1043, 1062.7, 1155, 1144), [0, 2], lt, ltt, loss2_train, loss2_test, "MSE", None, ["training loss", "test loss"])
curve((860, 1153.7, 971, 1234.7), [0, 1], st, stt, skill1_train, skill1_test, "PE", "training epoch number", ["training skill", "test skill"])
curve((1043, 1153.7, 1155, 1234.7), [0, 1], st, stt, skill2_train, skill2_test, "PE", "training epoch number", ["training skill", "test skill"])
for x, y, names in [(927, 1071, ["training loss", "test loss"]), (1110, 1071, ["training loss", "test loss"]),
                    (927, 1225, ["training skill", "test skill"]), (1110, 1225, ["training skill", "test skill"])]:
    minilegend(x, y, names, ["#111", "#c8202f"], 5.3)

fig = go.Figure(data=traces, layout=layout)
fig.write_html("out.html", config={"displayModeBar": False},
               post_script="document.body.style.margin='0';document.body.style.background='%s';document.documentElement.style.overflow='hidden';" % BG)
